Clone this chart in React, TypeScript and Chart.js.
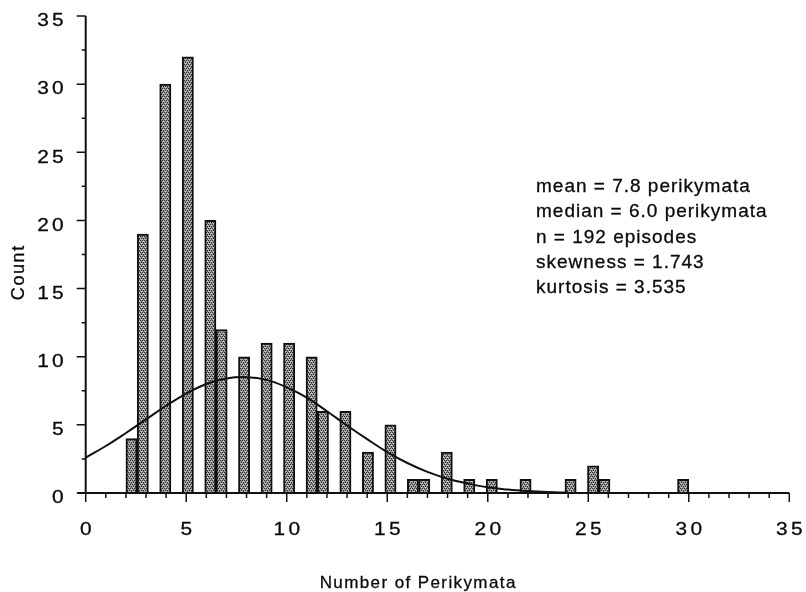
import React, { useEffect, useRef } from "react";
import { Chart, registerables } from "chart.js";
Chart.register(...registerables);

// Histogram: observed perikymata counts (integer values) and their frequencies
const perikymata = [2, 3, 4, 5, 6, 7, 8, 9, 10, 11, 12, 13, 14, 15, 16, 17, 18, 19, 20, 22, 24, 25, 26, 30];
const counts = [4, 19, 30, 32, 20, 12, 10, 11, 11, 10, 6, 6, 3, 5, 1, 1, 3, 1, 1, 1, 1, 2, 1, 1];
// histogram binning used by the original (50 bins spanning 2..30)
const binStart = 2;
const binWidth = 0.56;
const binCount = 50;

// fitted normal curve
const curveX = [0, 1, 2, 3, 4, 5, 6, 7, 8, 9, 10, 11, 12, 13, 14, 15, 16, 17, 18, 19, 20, 21, 22, 23, 24];
const curveY = [2.6, 3.45, 4.4, 5.4, 6.4, 7.3, 8.0, 8.4, 8.5, 8.3, 7.75, 7.0, 6.0, 4.95, 3.95, 3.0, 2.2, 1.55, 1.05, 0.7, 0.42, 0.25, 0.14, 0.07, 0.03];

const xTicks = [0, 5, 10, 15, 20, 25, 30, 35];
const yTicks = [0, 5, 10, 15, 20, 25, 30, 35];
const xTitle = "Number of Perikymata";
const yTitle = "Count";
const statsLines = [
  "mean = 7.8 perikymata",
  "median = 6.0 perikymata",
  "n = 192 episodes",
  "skewness = 1.743",
  "kurtosis = 3.535",
];

function drawText(
  ctx: CanvasRenderingContext2D,
  text: string,
  x: number,
  y: number,
  font: string,
  spacing: number,
  align: "left" | "center" | "right",
  scaleX = 1
) {
  ctx.save();
  ctx.font = font;
  (ctx as any).letterSpacing = spacing + "px";
  const w = (ctx.measureText(text).width - spacing) * scaleX;
  const left = align === "center" ? x - w / 2 : align === "right" ? x - w : x;
  ctx.translate(left, y);
  ctx.scale(scaleX, 1);
  ctx.textAlign = "left";
  ctx.textBaseline = "middle";
  ctx.fillStyle = "#0a0a0a";
  ctx.strokeStyle = "#0a0a0a";
  ctx.lineWidth = 0.3;
  ctx.fillText(text, 0, 0);
  ctx.strokeText(text, 0, 0);
  ctx.restore();
}

const axesPlugin = {
  id: "axesPlugin",
  afterDatasetsDraw(chart: any) {
    const ctx: CanvasRenderingContext2D = chart.ctx;
    const xs = chart.scales.x;
    const ys = chart.scales.y;
    const x0 = xs.getPixelForValue(0);
    const y0 = ys.getPixelForValue(0);
    const yTop = ys.getPixelForValue(35);
    const xRight = xs.getPixelForValue(35);
    ctx.save();
    ctx.strokeStyle = "#111";
    ctx.lineCap = "butt";
    ctx.lineWidth = 2;
    ctx.beginPath();
    ctx.moveTo(x0, yTop);
    ctx.lineTo(x0, y0);
    ctx.moveTo(x0 - 8, y0);
    ctx.lineTo(xRight, y0);
    ctx.stroke();
    ctx.lineWidth = 1.5;
    ctx.beginPath();
    for (let v = 0; v <= 35; v += 1) {
      const px = xs.getPixelForValue(v);
      const len = v % 5 === 0 ? 9 : 5;
      ctx.moveTo(px, y0);
      ctx.lineTo(px, y0 + len);
    }
    for (let v = 0; v <= 35; v += 2.5) {
      const py = ys.getPixelForValue(v);
      const len = v % 5 === 0 ? 9 : 4;
      ctx.moveTo(x0 - len, py);
      ctx.lineTo(x0, py);
    }
    ctx.stroke();
    ctx.restore();

    const tickFont = "19px 'Liberation Sans', Arial, sans-serif";
    xTicks.forEach((v) => {
      drawText(ctx, String(v), xs.getPixelForValue(v), y0 + 37, tickFont, 3, "center", 1.1);
    });
    yTicks.forEach((v) => {
      drawText(ctx, String(v), x0 - 22, ys.getPixelForValue(v) + 5, tickFont, 3, "right", 1.1);
    });

    drawText(ctx, xTitle, (x0 + xRight) / 2 - 20, 583, "17px 'Liberation Sans', Arial, sans-serif", 1.4, "center", 1);
    ctx.save();
    ctx.translate(19, 273);
    ctx.rotate(-Math.PI / 2);
    drawText(ctx, yTitle, 0, 0, "18px 'Liberation Sans', Arial, sans-serif", 1.6, "center", 1);
    ctx.restore();

    const statFont = "19px 'Liberation Sans', Arial, sans-serif";
    statsLines.forEach((s, i) => {
      drawText(ctx, s, 536, 187 + i * 25.2, statFont, 1.0, "left", 1);
    });
  },
};

export default function App() {
  const ref = useRef<HTMLCanvasElement | null>(null);
  useEffect(() => {
    document.body.style.margin = "0";
    const canvas = ref.current;
    if (!canvas) return;

    const pc = document.createElement("canvas");
    pc.width = 4;
    pc.height = 4;
    const p = pc.getContext("2d")!;
    p.fillStyle = "#a4a4a4";
    p.fillRect(0, 0, 4, 4);
    p.fillStyle = "#2a2a2a";
    [[0, 0], [2, 0], [1, 2], [3, 2]].forEach(([a, b]) => p.fillRect(a, b, 1, 1));
    p.fillStyle = "#606060";
    [[1, 1], [3, 3]].forEach(([a, b]) => p.fillRect(a, b, 1, 1));
    p.fillStyle = "#d0d0d0";
    [[3, 1], [1, 3]].forEach(([a, b]) => p.fillRect(a, b, 1, 1));
    const pattern = canvas.getContext("2d")!.createPattern(pc, "repeat")!;

    const barData = perikymata.map((v, i) => {
      const idx = Math.min(binCount - 1, Math.floor((v - binStart) / binWidth + 1e-9));
      return { x: binStart + (idx + 0.5) * binWidth, y: counts[i] };
    });
    const curveData = curveX.map((x, i) => ({ x, y: curveY[i] }));

    const chart = new Chart(canvas, {
      type: "bar",
      data: {
        datasets: [
          {
            type: "line",
            data: curveData as any,
            borderColor: "#111",
            borderWidth: 2,
            pointRadius: 0,
            tension: 0.4,
            fill: false,
            order: 0,
          } as any,
          {
            type: "bar",
            data: barData as any,
            backgroundColor: pattern as any,
            borderColor: "#101010",
            borderWidth: 2,
            borderSkipped: "bottom",
            barPercentage: 1,
            categoryPercentage: 1,
            order: 1,
          } as any,
        ],
      },
      options: {
        responsive: false,
        animation: false,
        events: [],
        layout: { padding: { left: 0, right: 16.7, top: 16, bottom: 0 } },
        plugins: { legend: { display: false }, tooltip: { enabled: false } },
        scales: {
          x: {
            type: "linear",
            min: 0,
            max: 35,
            offset: false,
            grid: { display: false },
            border: { display: false },
            ticks: { display: false },
            afterFit: (s: any) => {
              s.height = 99;
            },
          },
          y: {
            type: "linear",
            min: 0,
            max: 35,
            grid: { display: false },
            border: { display: false },
            ticks: { display: false },
            afterFit: (s: any) => {
              s.width = 85.7;
            },
          },
        },
      } as any,
      plugins: [axesPlugin],
    });
    return () => chart.destroy();
  }, []);

  return (
    <div style={{ width: 806, height: 592, background: "#fff" }}>
      <canvas ref={ref} width={806} height={592} style={{ display: "block" }} />
    </div>
  );
}
